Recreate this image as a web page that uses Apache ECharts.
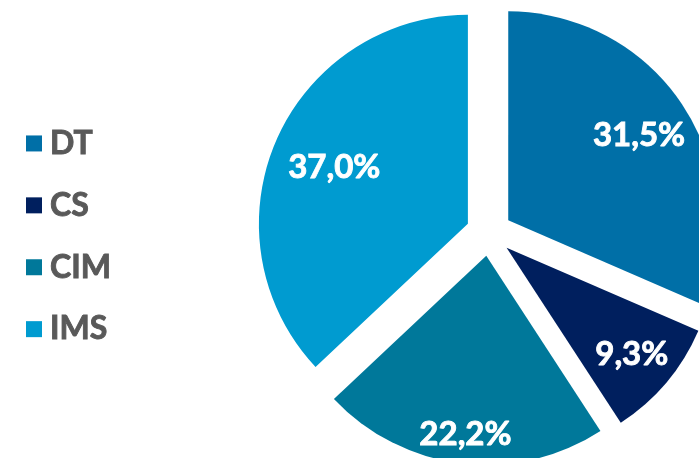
<!DOCTYPE html>
<html>
<head>
<meta charset="utf-8">
<script src="https://cdn.jsdelivr.net/npm/echarts@6/dist/echarts.min.js"></script>
<style>
  html, body { margin: 0; padding: 0; background: #ffffff; }
  #chart { width: 699px; height: 458px; }
</style>
</head>
<body>
<div id="chart"></div>
<script>
// Segment shares, in percent
const segments = ['DT', 'CS', 'CIM', 'IMS'];
const shares = [31.5, 9.3, 22.2, 37.0];
const segmentColors = ['#006FA7', '#001F5E', '#00789A', '#009BD0'];
// Small nudges that push each value label further out within its slice
const labelNudge = [[41, -26], [43, 37], [-8, 72], [-35, -14]];

const fmt = v => v.toFixed(1).replace('.', ',') + '%';

const chart = echarts.init(document.getElementById('chart'), null, { renderer: 'canvas' });

chart.setOption({
  animation: false,
  color: segmentColors,
  legend: {
    orient: 'vertical',
    left: 21,
    top: 122,
    icon: 'rect',
    itemWidth: 16,
    itemHeight: 16,
    itemGap: 29,
    selectedMode: false,
    data: segments,
    textStyle: {
      fontFamily: 'Lato',
      fontWeight: 'bold',
      fontSize: 32,
      color: '#595959',
      textBorderColor: '#595959',
      textBorderWidth: 0.9,
      padding: [0, 0, 0, 3]
    }
  },
  series: [{
    type: 'pie',
    center: [489, 233],
    radius: 209,
    startAngle: 90,
    clockwise: true,
    selectedMode: 'multiple',
    selectedOffset: 23,
    emphasis: { disabled: true },
    labelLine: { show: false },
    label: {
      position: 'inside',
      fontFamily: 'Lato',
      fontWeight: 'bold',
      fontSize: 33,
      color: '#ffffff',
      textBorderColor: '#ffffff',
      textBorderWidth: 0.9,
      formatter: p => fmt(p.value)
    },
    labelLayout: p => ({ dx: labelNudge[p.dataIndex][0], dy: labelNudge[p.dataIndex][1] }),
    data: segments.map((name, i) => ({
      name: name,
      value: shares[i],
      selected: true,
      itemStyle: { color: segmentColors[i] }
    }))
  }]
});
</script>
</body>
</html>
